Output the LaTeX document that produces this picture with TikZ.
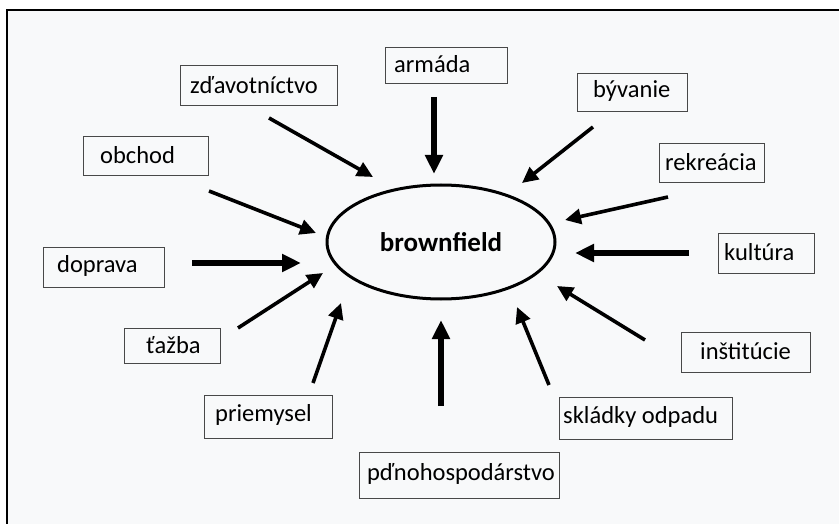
\documentclass[tikz,border=0pt]{standalone}
\usepackage{fontspec}
\setmainfont{Carlito}
\usetikzlibrary{arrows.meta,calc,shapes.geometric}
\definecolor{bgpaper}{HTML}{F8F9FA}
\definecolor{boxline}{HTML}{484848}
\tikzset{
  box/.style={draw=boxline, line width=1.4pt, anchor=north west, inner sep=0pt},
  lbl/.style={anchor=west, inner sep=0pt, text=black, font=\fontsize{24.5}{28}\selectfont},
  arr/.style={line width=3.6pt, -{Triangle[length=16pt,width=15pt]}},
  arrbig/.style={line width=5.2pt, -{Triangle[length=19pt,width=17pt]}},
  frame/.style={line width=2pt, draw=black},
  centre/.style={draw, ellipse, line width=3pt, minimum width=228pt, minimum height=114pt, inner sep=0pt,
    font=\bfseries\fontsize{27}{30}\selectfont}
}
\begin{document}
\begin{tikzpicture}[x=1pt,y=-1pt]
\useasboundingbox (0,0) rectangle (839,524);
\clip (0,0) rectangle (839,524);
% page background and frame
\fill[white] (0,0) rectangle (839,524);
\fill[bgpaper] (7,10.5) rectangle (850,540);
\draw[frame] (850,10.5) -- (7,10.5) -- (7,540);

% central ellipse
\node[centre] (bf) at (441,242) {brownfield};

% boxes
\node[box, minimum width=157pt, minimum height=40pt] (zdr) at (180,65) {};
\node[box, minimum width=125pt, minimum height=39pt] (obc) at (83,136) {};
\node[box, minimum width=121pt, minimum height=40pt] (dop) at (43,247) {};
\node[box, minimum width=122pt, minimum height=36pt] (arm) at (385,47) {};
\node[box, minimum width=110pt, minimum height=38pt] (byv) at (577,73) {};
\node[box, minimum width=105pt, minimum height=39pt] (rek) at (659,143) {};
\node[box, minimum width=96pt, minimum height=40pt] (kul) at (718,233) {};
\node[box, minimum width=129pt, minimum height=40pt] (ins) at (681,332) {};
\node[box, minimum width=173pt, minimum height=42pt] (skl) at (559,397) {};
\node[box, minimum width=200pt, minimum height=46pt] (pol) at (359,452) {};
\node[box, minimum width=128pt, minimum height=43pt] (pri) at (204,395) {};
\node[box, minimum width=96pt, minimum height=35pt] (taz) at (124,328) {};

% labels
\node[lbl] (tzdr) at (190,85) {zďavotníctvo};
\node[lbl] (tobc) at (100,155.5) {obchod};
\node[lbl] (tdop) at (57,266) {doprava};
\node[lbl] (tarm) at (394,64) {armáda};
\node[lbl] (tbyv) at (593,91) {bývanie};
\node[lbl] (trek) at (665,162) {rekreácia};
\node[lbl] (tkul) at (724,252) {kultúra};
\node[lbl] (tins) at (700,351) {inštitúcie};
\node[lbl] (tskl) at (563,417) {skládky odpadu};
\node[lbl] (tpol) at (367,474) {pďnohospodárstvo};
\node[lbl] (tpri) at (215,415) {priemysel};
\node[lbl] (ttaz) at (146,345) {ťažba};

% arrow end points
\coordinate (szdr) at (269,118); \coordinate (ezdr) at (373,177);
\coordinate (sobc) at (209,191); \coordinate (eobc) at (316,233);
\coordinate (sdop) at (192,263); \coordinate (edop) at (301,263);
\coordinate (sarm) at (434,97);  \coordinate (earm) at (434,174);
\coordinate (sbyv) at (593,127); \coordinate (ebyv) at (522,183);
\coordinate (srek) at (668,197); \coordinate (erek) at (565,220);
\coordinate (skul) at (689,253); \coordinate (ekul) at (575,253);
\coordinate (sins) at (645,340); \coordinate (eins) at (557,286);
\coordinate (sskl) at (549,385); \coordinate (eskl) at (517,307);
\coordinate (spol) at (441,406); \coordinate (epol) at (441,320);
\coordinate (spri) at (313,383); \coordinate (epri) at (341,303);
\coordinate (staz) at (238,328); \coordinate (etaz) at (323,273);

% arrows
\draw[arr] (szdr) -- (ezdr);
\draw[arr] (sobc) -- (eobc);
\draw[arrbig] (sdop) -- (edop);
\draw[arrbig] (sarm) -- (earm);
\draw[arr] (sbyv) -- (ebyv);
\draw[arr] (srek) -- (erek);
\draw[arrbig] (skul) -- (ekul);
\draw[arr] (sins) -- (eins);
\draw[arr] (sskl) -- (eskl);
\draw[arrbig] (spol) -- (epol);
\draw[arr] (spri) -- (epri);
\draw[arr] (staz) -- (etaz);
\end{tikzpicture}
\end{document}
